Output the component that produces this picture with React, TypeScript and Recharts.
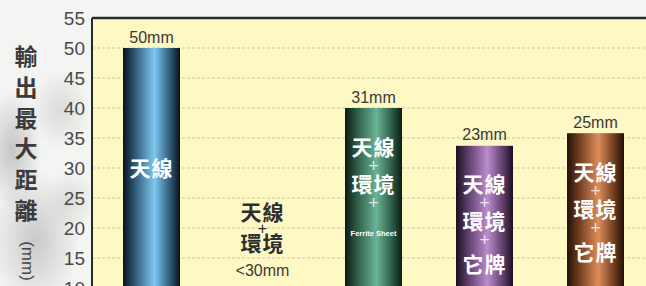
import { BarChart, Bar, XAxis, YAxis, CartesianGrid, ReferenceLine, ReferenceDot } from "recharts";

// categories (one per column) and bar heights
const categories = ["天線", "天線+環境", "天線+環境+Ferrite Sheet", "天線+環境+它牌 A", "天線+環境+它牌 B"];
const barHeights = [50, null, 40, 33.7, 35.8];
const valueLabels = ["50mm", "<30mm", "31mm", "23mm", "25mm"];
const barText = [
  ["天線"],
  ["天線", "+", "環境"],
  ["天線", "+", "環境", "+", "Ferrite Sheet"],
  ["天線", "+", "環境", "+", "它牌"],
  ["天線", "+", "環境", "+", "它牌"],
];
const yTicks = [0, 5, 10, 15, 20, 25, 30, 35, 40, 45, 50, 55];
const axisTitle = ["輸", "出", "最", "大", "距", "離"];
const axisUnit = "(mm)";
const noteLevel = 22.6;

const palette = [
  { id: "gBlue", edge: "#0b1217", mid: "#27506b", light: "#7ec8f2" },
  null,
  { id: "gGreen", edge: "#0c1a14", mid: "#275440", light: "#6ab495" },
  { id: "gPurple", edge: "#1a0f1e", mid: "#553762", light: "#bb8ccb" },
  { id: "gBrown", edge: "#221009", mid: "#66361b", light: "#dc8d5a" },
];

const data = categories.map((name, i) => ({
  name,
  height: barHeights[i],
  label: valueLabels[i],
  lines: barText[i],
  idx: i,
}));

const FONT = "'Liberation Sans', 'Noto Sans CJK TC', sans-serif";

function BarShape(props: any) {
  const { x, y, width, height, payload } = props;
  if (payload.height == null) return null;
  const g = palette[payload.idx];
  const cx = x + width / 2;
  const lines: string[] = payload.lines;
  const start = lines.length === 1 ? y + height * 0.4 : y + 39;
  return (
    <g>
      <rect x={x} y={y} width={width} height={height} fill={`url(#${g!.id})`} />
      <text x={cx} y={y - 11} textAnchor="middle" dominantBaseline="central" fontSize={16} fill="#3a3a3a" fontFamily={FONT}>
        {payload.label}
      </text>
      {lines.map((t, k) => {
        const small = t === "Ferrite Sheet";
        const plus = t === "+";
        const off = k < 4 ? k * 18.5 : small ? 86 : 80;
        return (
          <text
            key={k}
            x={cx}
            y={start + off}
            textAnchor="middle"
            dominantBaseline="central"
            fill={plus ? "rgba(255,255,255,0.8)" : "#fff"}
            fontSize={small ? 7.5 : plus ? 18 : 21}
            fontWeight={plus ? 400 : 700}
            letterSpacing={small || plus ? 0 : 1}
            fontFamily={FONT}
          >
            {t}
          </text>
        );
      })}
    </g>
  );
}

function NoteShape(props: any) {
  const { cx, cy } = props;
  const lines = barText[1];
  const offs = [0, 16, 31];
  return (
    <g fontFamily={FONT}>
      {lines.map((t, k) => (
        <text
          key={k}
          x={cx}
          y={cy + offs[k]}
          textAnchor="middle"
          dominantBaseline="central"
          fill="#2e2e2e"
          fontSize={t === "+" ? 16 : 21}
          fontWeight={t === "+" ? 400 : 700}
          letterSpacing={t === "+" ? 0 : 1}
        >
          {t}
        </text>
      ))}
      <text x={cx} y={cy + 58} textAnchor="middle" dominantBaseline="central" fill="#3a3a3a" fontSize={16}>
        {valueLabels[1]}
      </text>
    </g>
  );
}

function AxisTitle() {
  return (
    <g fontFamily={FONT}>
      {axisTitle.map((c, k) => (
        <text key={c} x={26} y={57 + k * 30.8} textAnchor="middle" dominantBaseline="central" fontSize={23} fontWeight={700} fill="#3b3b3b">
          {c}
        </text>
      ))}
      <text x={27} y={261} textAnchor="middle" dominantBaseline="central" fontSize={17} fill="#444" transform="rotate(90 27 261)">
        {axisUnit}
      </text>
    </g>
  );
}

export default function App() {
  return (
    <div
      style={{
        position: "fixed",
        left: 0,
        top: 0,
        width: 646,
        height: 286,
        overflow: "hidden",
        background:
          "radial-gradient(ellipse 30px 60px at 12px 150px, rgba(140,140,140,0.45), transparent), radial-gradient(ellipse 45px 70px at 35px 240px, rgba(135,135,135,0.4), transparent), radial-gradient(ellipse 30px 40px at 60px 110px, rgba(170,170,170,0.35), transparent), radial-gradient(ellipse 25px 30px at 70px 200px, rgba(170,170,170,0.3), transparent), #f4f4f3",
      }}
    >
      <BarChart width={651} height={350} data={data} margin={{ top: 18, right: 0, bottom: 2, left: 0 }} barSize={57}>
        <defs>
          {palette.map((p) =>
            p ? (
              <linearGradient key={p.id} id={p.id} x1="0" y1="0" x2="1" y2="0">
                <stop offset="0%" stopColor={p.edge} />
                <stop offset="18%" stopColor={p.mid} />
                <stop offset="55%" stopColor={p.light} />
                <stop offset="85%" stopColor={p.mid} />
                <stop offset="100%" stopColor={p.edge} />
              </linearGradient>
            ) : null
          )}
        </defs>
        <CartesianGrid vertical={false} fill="#fdf8c4" stroke="#cfc6a2" strokeDasharray="3 2" />
        <XAxis dataKey="name" hide padding={{ left: 4, right: 0 }} />
        <YAxis
          width={92}
          domain={[0, 55]}
          ticks={yTicks}
          interval={0}
          tickSize={0}
          tickMargin={7}
          tickLine={false}
          axisLine={{ stroke: "#2a2a2a", strokeWidth: 2 }}
          tick={{ fontSize: 19, fill: "#4a4a4a", fontFamily: FONT }}
          label={{ content: AxisTitle }}
        />
        <ReferenceLine y={55} stroke="#2a2a2a" strokeWidth={2.5} />
        <Bar dataKey="height" shape={BarShape} isAnimationActive={false} />
        <ReferenceDot x={categories[1]} y={noteLevel} r={1} shape={NoteShape} />
      </BarChart>
    </div>
  );
}
